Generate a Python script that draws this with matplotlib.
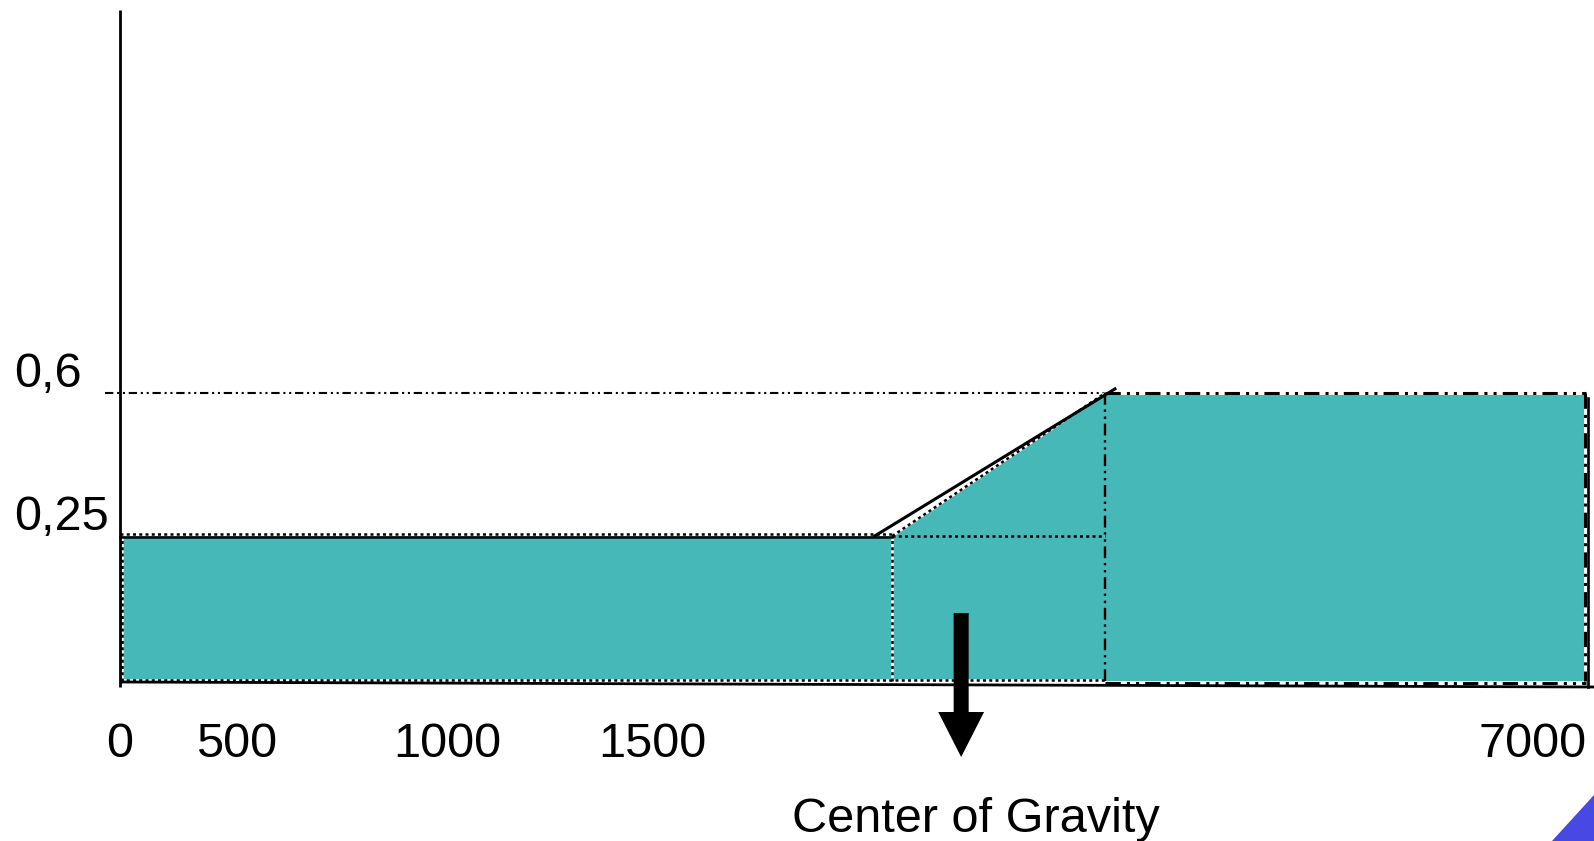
import numpy as np
import matplotlib
matplotlib.use("Agg")
import matplotlib.pyplot as plt
import matplotlib.transforms as mtransforms
from matplotlib.patches import Polygon

# ---------------- data ----------------
x_tick_values = [0, 500, 1000, 1500, 7000]
x_tick_labels = ["0", "500", "1000", "1500", "7000"]
y_levels = [0.25, 0.6]
y_labels = ["0,25", "0,6"]

# clipped (aggregated) fuzzy output set
x_low_end = 3000      # membership 0.25 from 0 to here
x_ramp_end = 4330     # ramp reaches 0.6 here
x_high_end = 7330     # 0.6 plateau ends here
# original ramp line of the membership function
orig_ramp_x = [2890, 4390]
orig_ramp_y = [0.25, 0.61]
cog_x = 3430
cog_label = "Center of Gravity"

# ---------------- schematic (non-linear) scales ----------------
x_anchor_pos = [0, 117, 327, 532, 1413]
y_anchor_val = [0.0, 0.25, 0.6]
y_anchor_pos = [0.0, 0.302, 0.6]


def piecewise(xs, ys):
    xs = np.asarray(xs, float)
    ys = np.asarray(ys, float)

    def f(v):
        v = np.asarray(v, float)
        out = np.interp(v, xs, ys)
        lo = ys[0] + (v - xs[0]) * (ys[1] - ys[0]) / (xs[1] - xs[0])
        hi = ys[-1] + (v - xs[-1]) * (ys[-1] - ys[-2]) / (xs[-1] - xs[-2])
        out = np.where(v < xs[0], lo, out)
        out = np.where(v > xs[-1], hi, out)
        return out
    return f


xf = piecewise(x_tick_values, x_anchor_pos)
xi = piecewise(x_anchor_pos, x_tick_values)
yf = piecewise(y_anchor_val, y_anchor_pos)
yi = piecewise(y_anchor_pos, y_anchor_val)

W, H = 1594, 841
fig = plt.figure(figsize=(W / 100, H / 100), dpi=100)
ax = fig.add_axes([0, 0, 1, 1])
ax.set_xscale("function", functions=(xf, xi))
ax.set_yscale("function", functions=(yf, yi))
ox, oy = 120, 681            # pixel of origin
py = 480.0                   # pixels per y position unit
ax.set_xlim(float(xi(-ox)), float(xi(W - ox)))
ax.set_ylim(float(yi(-(H - oy) / py)), float(yi(oy / py)))
ax.axis("off")
ax.set_autoscale_on(False)

plt.rcParams["font.family"] = ["Liberation Sans", "DejaVu Sans"]
FS = 35
teal = "#47B8B8"


def off(dx=0, dy=0):
    return ax.transData + mtransforms.ScaledTranslation(dx / 100, dy / 100, fig.dpi_scale_trans)


def edge(xs, ys, dashes, dx=0, dy=0, lw=1.8, white=True, z=3):
    t = off(dx, dy)
    if white:
        ax.plot(xs, ys, color="white", lw=lw, transform=t, solid_capstyle="butt", zorder=z)
    ax.plot(xs, ys, color="black", lw=lw, dashes=dashes, transform=t, zorder=z + 0.1)


L, Hh = y_levels
dot = (1.2, 1.3)
dadd = (5, 2, 1, 2, 1, 2)

# filled output set
ax.fill([0, 0, x_low_end, x_ramp_end, x_high_end, x_high_end],
        [0, L, L, Hh, Hh, 0], color=teal, lw=0, zorder=1)

# 0.6 guide line
ax.plot([float(xi(xf(0) - 15)), x_ramp_end], [Hh, Hh], color="black", lw=1.5,
        dashes=(4, 1.8, 1, 1.8, 1, 1.8), zorder=2)

# left block edges
edge([0, 0], [0, L], dot, dx=2)
ax.plot([0, x_low_end], [L, L], color="black", lw=1.8, transform=off(0, -1), zorder=4)
edge([0, x_low_end], [L, L], dot, dy=2)
edge([0, x_ramp_end], [0, 0], dot, dy=1.5)
# middle block edges
edge([x_low_end, x_low_end], [0, L], dot)
edge([x_low_end, x_ramp_end], [L, L], dot, white=False)
edge([x_low_end, x_ramp_end], [L, Hh], dot)
# original ramp
ax.plot(orig_ramp_x, orig_ramp_y, color="black", lw=2.2, zorder=5)
# right block edges
edge([x_ramp_end, x_ramp_end], [0, Hh], dadd, lw=1.7, white=False)
edge([x_ramp_end, x_high_end], [Hh, Hh], dadd, lw=2.2)
edge([x_high_end, x_high_end], [Hh, 0], dadd, lw=2.2, dx=-1)
edge([x_ramp_end, x_high_end], [0, 0], dadd, lw=2.2, dy=-2)
ax.plot([x_high_end, x_high_end], [float(yi(0.59)), float(yi(-0.012))], color="black",
        lw=1.9, transform=off(2, 0), zorder=5)

# axes lines
ax.plot([0, 0], [(H - 687) / H, (H - 10) / H], color="black", lw=2.0,
        transform=ax.get_xaxis_transform(), zorder=6, solid_capstyle="butt")
ax.plot([0, float(xi(W - ox))], [float(yi(-1 / py)), float(yi(-6 / py))], color="black",
        lw=2.0, zorder=6, solid_capstyle="butt")

# tick labels
for v, lab in zip(x_tick_values, x_tick_labels):
    ax.annotate(lab, xy=(v, 0), xytext=(0, -76), textcoords="offset pixels",
                ha="center", va="baseline", fontsize=FS)
for v, lab in zip(y_levels, y_labels):
    ax.annotate(lab, xy=(0, v), xytext=(-106, 6), textcoords="offset pixels",
                ha="left", va="baseline", fontsize=FS)

# center of gravity arrow + label
ax.annotate("", xy=(cog_x, 0), xycoords=off(0, -76), xytext=(0, 144),
            textcoords="offset pixels",
            arrowprops=dict(arrowstyle="simple,head_length=32.4,head_width=33,tail_width=10.8",
                            fc="black", ec="none", shrinkA=0, shrinkB=0, mutation_scale=1),
            zorder=7)
ax.annotate(cog_label, xy=(cog_x, 0), xytext=(15, -151), textcoords="offset pixels",
            ha="center", va="baseline", fontsize=FS)

# slide decoration in the corner
ax.add_patch(Polygon([(1, 46 / H), (1, 0), (1 - 42 / W, 0)], closed=True,
                     transform=ax.transAxes, color="#4848E4", lw=0, zorder=8))

fig.savefig("out.png", dpi=100)
